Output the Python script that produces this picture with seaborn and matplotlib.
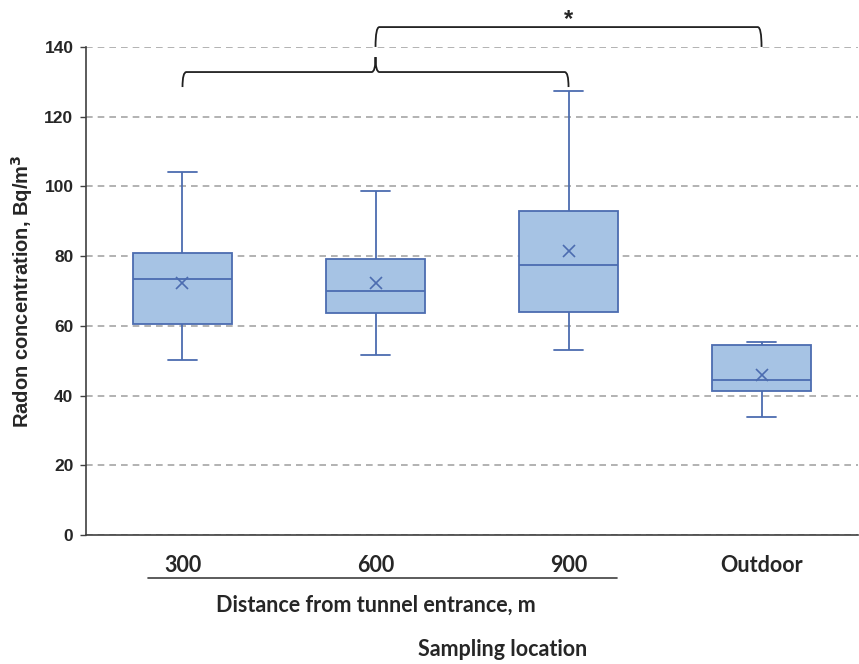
import pandas as pd
import matplotlib.pyplot as plt
import seaborn as sns
from matplotlib.path import Path
from matplotlib.patches import PathPatch
import matplotlib.transforms as mtransforms

# five-number summaries (Bq/m3)
locations = ["300", "600", "900", "Outdoor"]
whisker_low = [50.2, 51.7, 53.1, 33.8]
q1 = [60.5, 63.6, 63.9, 41.3]
median = [73.3, 70.0, 77.4, 44.6]
q3 = [80.8, 79.2, 93.0, 54.5]
whisker_high = [104.2, 98.6, 127.5, 55.4]
means = [72.2, 72.2, 81.5, 46.0]

y_ticks = [0, 20, 40, 60, 80, 100, 120, 140]

FACE = "#a6c3e4"
EDGE = "#4c6cb0"
GRID = "#a6a6a6"
SPINE = "#404040"

rows = []
for i, loc in enumerate(locations):
    for v in (whisker_low[i], q1[i], median[i], q3[i], whisker_high[i]):
        rows.append({"location": loc, "value": v})
df = pd.DataFrame(rows)

sns.set_style("white")
plt.rcParams["font.family"] = ["Liberation Sans", "DejaVu Sans"]

fig = plt.figure(figsize=(8.59, 6.64), dpi=100)
ax = fig.add_axes([0.1001, 0.1943, 0.8988, 0.735])

sns.boxplot(
    data=df, x="location", y="value", order=locations,
    whis=(0, 100), width=0.51, color=FACE, linecolor=EDGE,
    linewidth=1.3, saturation=1, fliersize=0, ax=ax,
)
sns.pointplot(
    x=locations, y=means, order=locations, linestyle="none",
    marker="x", markersize=9, markeredgewidth=1.2, color=EDGE,
    errorbar=None, ax=ax,
)

# narrower whisker caps
for line in ax.lines:
    xd = list(line.get_xdata())
    yd = list(line.get_ydata())
    if len(xd) == 2 and yd[0] == yd[1] and xd[0] != xd[1]:
        c = (xd[0] + xd[1]) / 2
        w = abs(xd[1] - xd[0])
        if w < 0.3 and any(abs(yd[0] - v) < 1e-6 for v in whisker_low + whisker_high):
            line.set_xdata([c - 0.075, c + 0.075])

ax.set_xlim(-0.5, 3.5)
ax.set_ylim(0, 140)
ax.set_yticks(y_ticks)
ax.yaxis.grid(True, linestyle=(0, (4, 3)), color=GRID, linewidth=1.2)
ax.set_axisbelow(True)

for side in ("top", "right"):
    ax.spines[side].set_visible(False)
for side in ("left", "bottom"):
    ax.spines[side].set_color(SPINE)
    ax.spines[side].set_linewidth(1.2)

ax.tick_params(axis="y", left=True, length=4, width=1, color=SPINE,
               labelsize=12.5, pad=5)
ax.tick_params(axis="x", bottom=False, pad=11)
for lab in ax.get_yticklabels():
    lab.set_fontweight("bold")
for lab in ax.get_xticklabels():
    lab.set_family(["Lato", "DejaVu Sans"])
    lab.set_fontweight("bold")
    lab.set_fontsize(15.5)

ax.set_ylabel("Radon concentration, Bq/m$^\\mathbf{3}$", fontsize=14.5,
              fontweight="bold", labelpad=7)
ax.set_xlabel("Sampling location", family=["Lato", "DejaVu Sans"],
              fontsize=15.5, fontweight="bold")
ax.xaxis.set_label_coords(0.54, -0.213)

# grouping line and label for the tunnel distances
trans = mtransforms.blended_transform_factory(ax.transData, ax.transAxes)
ax.plot([-0.18, 2.25], [-0.088, -0.088], color=SPINE, lw=1.2,
        transform=trans, clip_on=False)
ax.text(1.0, -0.143, "Distance from tunnel entrance, m", transform=trans,
        ha="center", va="center", family=["Lato", "DejaVu Sans"],
        fontsize=15.5, fontweight="bold")


def brace(x0, x1, y_h, y_end, xm=None, y_cusp=None, dx=0.02):
    verts = [(x0, y_end), (x0, y_h), (x0 + dx, y_h)]
    codes = [Path.MOVETO, Path.CURVE3, Path.CURVE3]
    if xm is not None:
        verts += [(xm - dx, y_h), (xm, y_h), (xm, y_cusp),
                  (xm, y_h), (xm + dx, y_h)]
        codes += [Path.LINETO, Path.CURVE3, Path.CURVE3,
                  Path.CURVE3, Path.CURVE3]
    verts += [(x1 - dx, y_h), (x1, y_h), (x1, y_end)]
    codes += [Path.LINETO, Path.CURVE3, Path.CURVE3]
    ax.add_patch(PathPatch(Path(verts, codes), fill=False, edgecolor="#202020",
                           lw=1.3, clip_on=False))


brace(1, 3, 145.7, 140.0)
brace(0, 2, 132.8, 128.5, xm=1, y_cusp=137.1)
ax.text(2.0, 147.8, "*", ha="center", va="center", fontsize=17,
        fontweight="bold", clip_on=False)

fig.savefig("out.png", dpi=100)
